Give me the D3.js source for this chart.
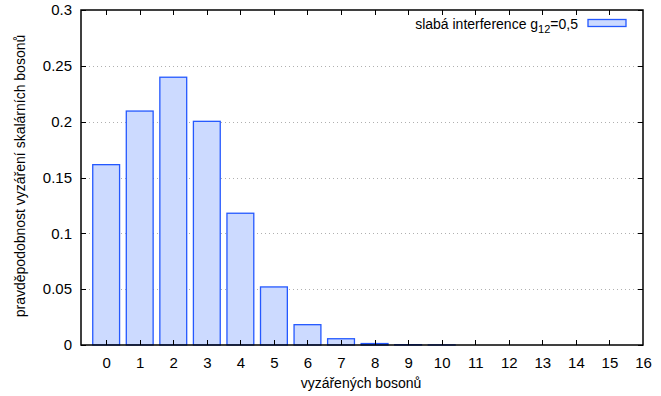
<!DOCTYPE html>
<html lang="cs">
<head>
	<meta charset="UTF-8">
	<title>slabá interference</title>
	<script src="https://cdn.jsdelivr.net/npm/d3@7/dist/d3.min.js"></script>
	<style>
		body { margin: 0; background: white; }
		svg text { font-family: "Liberation Sans", Arial, sans-serif; fill: #000; }
	</style>
</head>
<body>
	<div id="vis"></div>

	<script>
		var width = 661;
		var height = 396;

		// data
		var bosons = [0, 1, 2, 3, 4, 5, 6, 7, 8, 9, 10, 11, 12, 13, 14, 15];
		var probability = [0.1615, 0.2095, 0.2398, 0.2003, 0.1180, 0.0520, 0.0182, 0.0056, 0.0013, 0.0003, 0.0001, 0, 0, 0, 0, 0];
		var xTicks = [0, 1, 2, 3, 4, 5, 6, 7, 8, 9, 10, 11, 12, 13, 14, 15, 16];
		var yTicks = [0, 0.05, 0.1, 0.15, 0.2, 0.25, 0.3];
		var yTickLabels = ["0", "0.05", "0.1", "0.15", "0.2", "0.25", "0.3"];
		var seriesName = "slabá interference g";

		var margin = {top: 10, right: 18, bottom: 51, left: 81};
		var innerW = width - margin.left - margin.right;
		var innerH = height - margin.top - margin.bottom;

		var svg = d3.select("#vis").append("svg")
				.attr("width", width)
				.attr("height", height);

		var g = svg.append("g")
				.attr("transform", "translate(" + margin.left + "," + margin.top + ")");

		var x = d3.scaleLinear().domain([-0.75, 16]).range([0, innerW]);
		var y = d3.scaleLinear().domain([0, 0.3]).range([innerH, 0]);

		// dotted grid lines
		g.append("g").selectAll("line")
			.data(yTicks.slice(1, -1))
			.join("line")
				.attr("x1", 0)
				.attr("x2", innerW)
				.attr("y1", function(d) { return Math.round(y(d)) + 0.5; })
				.attr("y2", function(d) { return Math.round(y(d)) + 0.5; })
				.attr("stroke", "#b0b0b0")
				.attr("stroke-width", 1)
				.attr("stroke-dasharray", "1,3");

		// bars
		var barW = 0.8;
		g.append("g").selectAll("rect")
			.data(bosons.map(function(b, i) { return {b: b, p: probability[i]}; }).filter(function(d) { return d.p > 0; }))
			.join("rect")
				.attr("x", function(d) { return x(d.b - barW / 2); })
				.attr("width", x(barW) - x(0))
				.attr("y", function(d) { return y(d.p); })
				.attr("height", function(d) { return y(0) - y(d.p); })
				.attr("fill", "#ccdaff")
				.attr("stroke", "#2458ff")
				.attr("stroke-width", 1.3);

		// axes: ticks inward, mirrored on the top and right
		var xAxis = d3.axisBottom(x).tickValues(xTicks).tickSize(0).tickPadding(12).tickFormat(d3.format("d"));
		var gx = g.append("g")
				.attr("transform", "translate(0," + innerH + ")")
				.call(xAxis);
		gx.select(".domain").remove();

		var yAxis = d3.axisLeft(y).tickValues(yTicks).tickSize(0).tickPadding(9)
				.tickFormat(function(d, i) { return yTickLabels[i]; });
		var gy = g.append("g").call(yAxis);
		gy.select(".domain").remove();

		svg.selectAll(".tick text")
			.attr("font-size", 15)
			.attr("font-family", "Liberation Sans, Arial, sans-serif")
			.attr("fill", "#000");

		var ticks = g.append("g").attr("stroke", "#000").attr("stroke-width", 1);
		ticks.selectAll("line.xb")
			.data(xTicks.slice(0, -1))
			.join("line")
				.attr("x1", function(d) { return Math.round(x(d)) + 0.5; })
				.attr("x2", function(d) { return Math.round(x(d)) + 0.5; })
				.attr("y1", innerH)
				.attr("y2", innerH - 5);
		ticks.selectAll("line.xt")
			.data(xTicks.slice(0, -1))
			.join("line")
				.attr("x1", function(d) { return Math.round(x(d)) + 0.5; })
				.attr("x2", function(d) { return Math.round(x(d)) + 0.5; })
				.attr("y1", 0)
				.attr("y2", 5);
		ticks.selectAll("line.yl")
			.data(yTicks)
			.join("line")
				.attr("x1", 0)
				.attr("x2", 5)
				.attr("y1", function(d) { return Math.round(y(d)) + 0.5; })
				.attr("y2", function(d) { return Math.round(y(d)) + 0.5; });
		ticks.selectAll("line.yr")
			.data(yTicks)
			.join("line")
				.attr("x1", innerW)
				.attr("x2", innerW - 5)
				.attr("y1", function(d) { return Math.round(y(d)) + 0.5; })
				.attr("y2", function(d) { return Math.round(y(d)) + 0.5; });

		// frame
		g.append("rect")
			.attr("x", 0)
			.attr("y", 0)
			.attr("width", innerW)
			.attr("height", innerH)
			.attr("fill", "none")
			.attr("stroke", "#000")
			.attr("stroke-width", 1.5);

		// legend
		var legend = svg.append("g");
		var legendText = legend.append("text")
				.attr("x", 578)
				.attr("y", 29)
				.attr("text-anchor", "end")
				.attr("font-size", 14);
		legendText.append("tspan").text(seriesName);
		legendText.append("tspan").attr("dy", 4).attr("font-size", 11).text("12");
		legendText.append("tspan").attr("dy", -4).text("=0,5");
		legend.append("rect")
			.attr("x", 588)
			.attr("y", 19.5)
			.attr("width", 38)
			.attr("height", 7)
			.attr("fill", "#ccdaff")
			.attr("stroke", "#2458ff")
			.attr("stroke-width", 1.3);

		// axis titles
		svg.append("text")
			.attr("x", 361)
			.attr("y", 388)
			.attr("text-anchor", "middle")
			.attr("font-size", 14)
			.text("vyzářených bosonů");

		svg.append("text")
			.attr("transform", "translate(25," + 176 + ") rotate(-90)")
			.attr("text-anchor", "middle")
			.attr("font-size", 14)
			.text("pravděpodobnost vyzáření skalárních bosonů");
	</script>
</body>
</html>
